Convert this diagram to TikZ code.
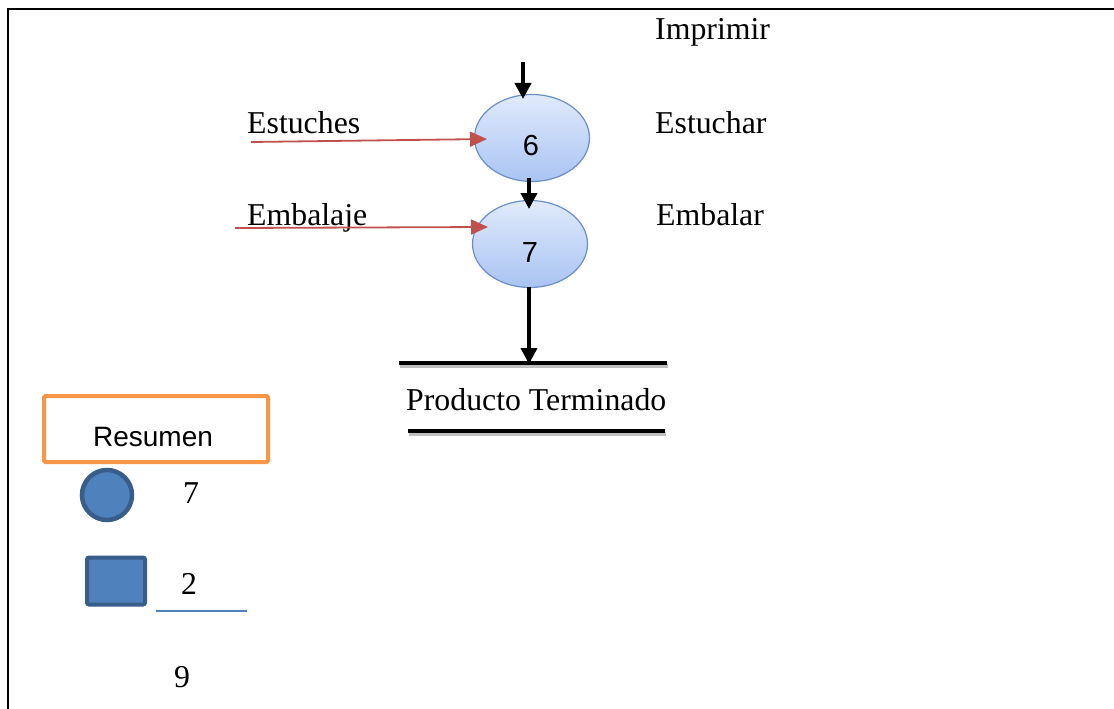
\documentclass[tikz,border=0pt]{standalone}
\usepackage{fontspec}
\setmainfont{Liberation Serif}
\newfontfamily\arialfont{Liberation Sans}
\usetikzlibrary{arrows.meta,shapes.geometric,calc}

\definecolor{procborder}{HTML}{6A8FC8}
\definecolor{proctop}{HTML}{E0EAFB}
\definecolor{procbottom}{HTML}{A9C4F3}
\definecolor{inputred}{HTML}{C0504D}
\definecolor{sumorange}{HTML}{F79646}
\definecolor{legendfill}{HTML}{4F81BD}
\definecolor{legendedge}{HTML}{385D8A}

\tikzset{
  x=1pt, y=-1pt,
  serifbig/.style={font=\fontsize{31.8}{36}\selectfont, inner sep=0pt},
  sansdigit/.style={font=\arialfont\fontsize{29}{34}\selectfont, inner sep=0pt},
  process/.style={ellipse, draw=procborder, line width=1.2pt,
    top color=proctop, bottom color=procbottom,
    minimum width=115pt, minimum height=87pt, inner sep=0pt},
  flowarrow/.style={line width=3.8pt, -{Triangle[length=16pt,width=16pt]}},
  inputarrow/.style={draw=inputred, line width=1.8pt,
    -{Triangle[length=17pt,width=15pt]}, color=inputred},
  storeline/.style={line width=4pt, line cap=butt},
  storeshadow/.style={line width=4pt, draw=black!25},
}

\begin{document}
\begin{tikzpicture}
\useasboundingbox (0,0) rectangle (1114,709);

% table frame (only top and left edges fall inside the page)
\begin{scope}
  \clip (0,0) rectangle (1114,709);
  \draw[line width=2pt] (7.5,9) rectangle (1130,730);
\end{scope}

% operations
\node[process] (e6) at (532,138) {};
\node[process] (e7) at (530,244) {};
\node[sansdigit] (n6) at (531,146) {6};
\node[sansdigit] (n7) at (530,253) {7};

% labels
\node[serifbig, anchor=base west] (imprimir) at (655,40) {Imprimir};
\node[serifbig, anchor=base west] (estuches) at (247,133) {Estuches};
\node[serifbig, anchor=base west] (estuchar) at (655,133) {Estuchar};
\node[serifbig, anchor=base west] (embalaje) at (247,225) {Embalaje};
\node[serifbig, anchor=base west] (embalar) at (656,225) {Embalar};

% inflow from the previous step
\coordinate (topin) at (523,62);
\coordinate (topend) at (523,99);
\draw[flowarrow] (topin) -- (topend);

% between the two operations
\coordinate (mid6) at (529,178);
\coordinate (mid7) at (529,209);
\draw[flowarrow] (mid6) -- (mid7);

% material inputs
\coordinate (estIn) at (251,142);
\coordinate (estTip) at (487,139);
\coordinate (embIn) at (235,228);
\coordinate (embTip) at (488,227);
\draw[inputarrow] (estIn) -- (estTip);
\draw[inputarrow] (embIn) -- (embTip);

% finished product store
\coordinate (stTopL) at (399,363);
\coordinate (stTopR) at (667,363);
\coordinate (stBotL) at (408,431);
\coordinate (stBotR) at (665,431);
\draw[storeshadow] ($(stTopL)+(1,2.5)$) -- ($(stTopR)+(1,2.5)$);
\draw[storeshadow] ($(stBotL)+(1,2.5)$) -- ($(stBotR)+(1,2.5)$);
\draw[storeline] (stTopL) -- (stTopR);
\draw[storeline] (stBotL) -- (stBotR);
\node[serifbig, anchor=base west] (producto) at (406,410) {Producto Terminado};

\coordinate (e7out) at (529,287);
\coordinate (storeIn) at (529,364);
\draw[flowarrow] (e7out) -- (storeIn);

% summary
\node[draw=sumorange, line width=4pt, rounded corners=1.5pt,
      minimum width=224pt, minimum height=66pt, anchor=north west, inner sep=0pt]
      (resbox) at (42,394) {};
\node[font=\arialfont\fontsize{28}{32}\selectfont, inner sep=0pt] (resumen) at (153,437) {Resumen};

\node[circle, fill=legendfill, draw=legendedge, line width=4.5pt,
      minimum size=50pt, inner sep=0pt] (opsym) at (107,495) {};
\node[rectangle, rounded corners=2pt, fill=legendfill, draw=legendedge, line width=4pt,
      minimum width=58pt, minimum height=47pt, inner sep=0pt] (inspsym) at (116,581) {};

\node[serifbig, anchor=base] (cnt7) at (191,503) {7};
\node[serifbig, anchor=base] (cnt2) at (189,594) {2};
\node[serifbig, anchor=base] (cnt9) at (182,687) {9};

\coordinate (sumL) at (156,611);
\coordinate (sumR) at (247,611);
\draw[legendfill, line width=1.5pt] (sumL) -- (sumR);
\end{tikzpicture}
\end{document}
